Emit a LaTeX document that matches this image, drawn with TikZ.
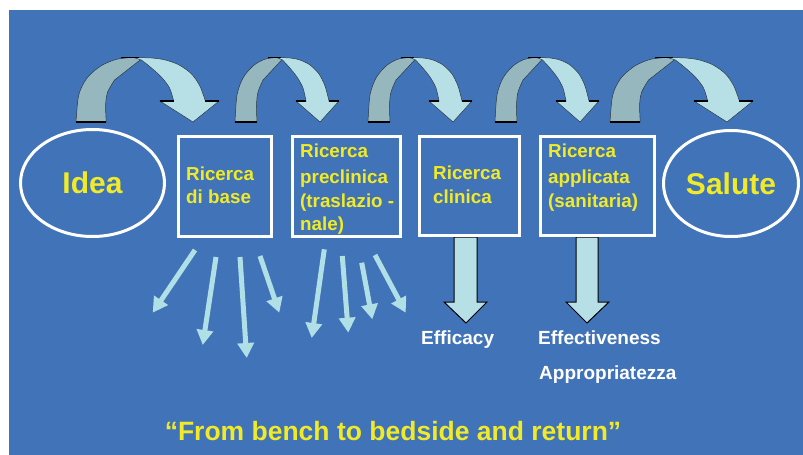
\documentclass[tikz,border=0pt]{standalone}
\usepackage{fontspec}
\setmainfont{Liberation Sans}
\usetikzlibrary{arrows.meta,shapes.geometric}
\definecolor{bgblue}{RGB}{65,115,185}
\definecolor{ylw}{RGB}{240,234,40}
\definecolor{darkarc}{RGB}{151,183,190}
\definecolor{lightarc}{RGB}{182,224,230}
\definecolor{fancol}{RGB}{176,224,230}
\definecolor{edgecol}{RGB}{40,55,65}
\begin{document}
\begin{tikzpicture}[x=1pt,y=-1pt,
  boxst/.style={draw=white,line width=3pt,rectangle,inner sep=0pt},
  ellst/.style={draw=white,line width=3pt,ellipse,inner sep=0pt,text=ylw,
    font=\fontsize{30}{36}\selectfont\bfseries},
  boxtxt/.style={text=ylw,font=\fontsize{18.8}{22}\selectfont\bfseries,anchor=base west,inner sep=0pt},
  wtxt/.style={text=white,font=\fontsize{19}{22}\selectfont\bfseries,anchor=base west,inner sep=0pt},
  fanarrow/.style={draw=fancol,line width=5pt,-{Triangle[length=15pt,width=16pt]}},
  blockarrow/.style={fill=lightarc,draw=black,line width=1pt,line join=miter},
  carrow/.pic={
    \filldraw[fill=darkarc,draw=edgecol,line width=0.5pt]
      plot[smooth] coordinates {(0,122) (2,95) (8,78) (18,66) (29,59.5) (40,57.5)}
      -- (48,58.5) --
      plot[smooth] coordinates {(28,80) (23,92) (21.5,105) (22,122)} -- cycle;
    \filldraw[fill=lightarc,draw=edgecol,line width=0.5pt]
      plot[smooth] coordinates {(42,57.5) (55,58) (65,60) (75,65) (84,74) (90,86) (94,101)}
      -- (104,101) -- (85,122) -- (61,101) --
      plot[smooth] coordinates {(71,101) (68,88) (62,77) (54,67) (47.5,60)} -- cycle;
    \draw[black,line width=1.2pt] (61,101) -- (71,101) (94,101) -- (104,101)
      (0,122) -- (22,122);
    \draw[black,line width=0.8pt] (33,57.8) -- (46,57.8);
  }]
\fill[white] (0,0) rectangle (803,455);
\useasboundingbox (0,0) rectangle (803,455);
\fill[bgblue] (9,10) rectangle (803,455);

% curved arrows
\pic[xscale=1.376] at (76,0) {carrow};
\pic at (235,0) {carrow};
\pic at (368,0) {carrow};
\pic at (495,0) {carrow};
\pic[xscale=1.376] at (610,0) {carrow};

% block arrows
\draw[blockarrow] (454,237) -- (477,237) -- (477,302) -- (487,302) -- (466,323) -- (444,302) -- (454,302) -- cycle;
\draw[blockarrow] (576,237) -- (598,237) -- (598,302) -- (609,302) -- (587,323) -- (566,302) -- (576,302) -- cycle;

% ellipses and boxes
\node[ellst,minimum width=144pt,minimum height=107pt] (idea) at (92.5,183) {Idea};
\node[ellst,minimum width=135pt,minimum height=106pt] (salute) at (731,183.5) {Salute};
\node[boxst,minimum width=93pt,minimum height=100pt] (b1) at (225,186.5) {};
\node[boxst,minimum width=108pt,minimum height=100pt] (b2) at (346.5,186.5) {};
\node[boxst,minimum width=100pt,minimum height=99pt] (b3) at (469.5,186) {};
\node[boxst,minimum width=114pt,minimum height=99pt] (b4) at (597.5,186) {};

% box texts
\node[boxtxt] (t11) at (186,180) {Ricerca};
\node[boxtxt] (t12) at (186,203) {di base};
\node[boxtxt] (t21) at (300,157) {Ricerca};
\node[boxtxt] (t22) at (300,183) {preclinica};
\node[boxtxt] (t23) at (300,207) {(traslazio -};
\node[boxtxt] (t24) at (300,230) {nale)};
\node[boxtxt] (t31) at (433,179) {Ricerca};
\node[boxtxt] (t32) at (433,203) {clinica};
\node[boxtxt] (t41) at (548,157) {Ricerca};
\node[boxtxt] (t42) at (548,183) {applicata};
\node[boxtxt] (t43) at (548,207) {(sanitaria)};

% fan arrows
\coordinate (a1s) at (195,250);   \coordinate (a1e) at (152.7,312.7);
\coordinate (a2s) at (216,257);   \coordinate (a2e) at (202.7,345);
\coordinate (a3s) at (240,257);   \coordinate (a3e) at (246.7,358);
\coordinate (a4s) at (260,256);   \coordinate (a4e) at (279.3,312.7);
\coordinate (c1s) at (324.3,249.3); \coordinate (c1e) at (311.7,338);
\coordinate (c2s) at (342.3,256); \coordinate (c2e) at (348.3,332.7);
\coordinate (c3s) at (361.7,262.7); \coordinate (c3e) at (372.3,319.3);
\coordinate (c4s) at (375,255);   \coordinate (c4e) at (405.7,312.7);
\foreach \p in {a1,a2,a3,a4,c1,c2,c3,c4}{
  \draw[fanarrow] (\p s) -- (\p e);
}

% white labels
\node[wtxt] (eff) at (421,344) {Efficacy};
\node[wtxt] (effv) at (538,344) {Effectiveness};
\node[wtxt] (appr) at (539,379) {Appropriatezza};

% quote
\node[text=ylw,font=\fontsize{26.5}{30}\selectfont\bfseries,anchor=base,inner sep=0pt] (quote) at (393,440) {“From bench to bedside and return”};
\end{tikzpicture}
\end{document}
